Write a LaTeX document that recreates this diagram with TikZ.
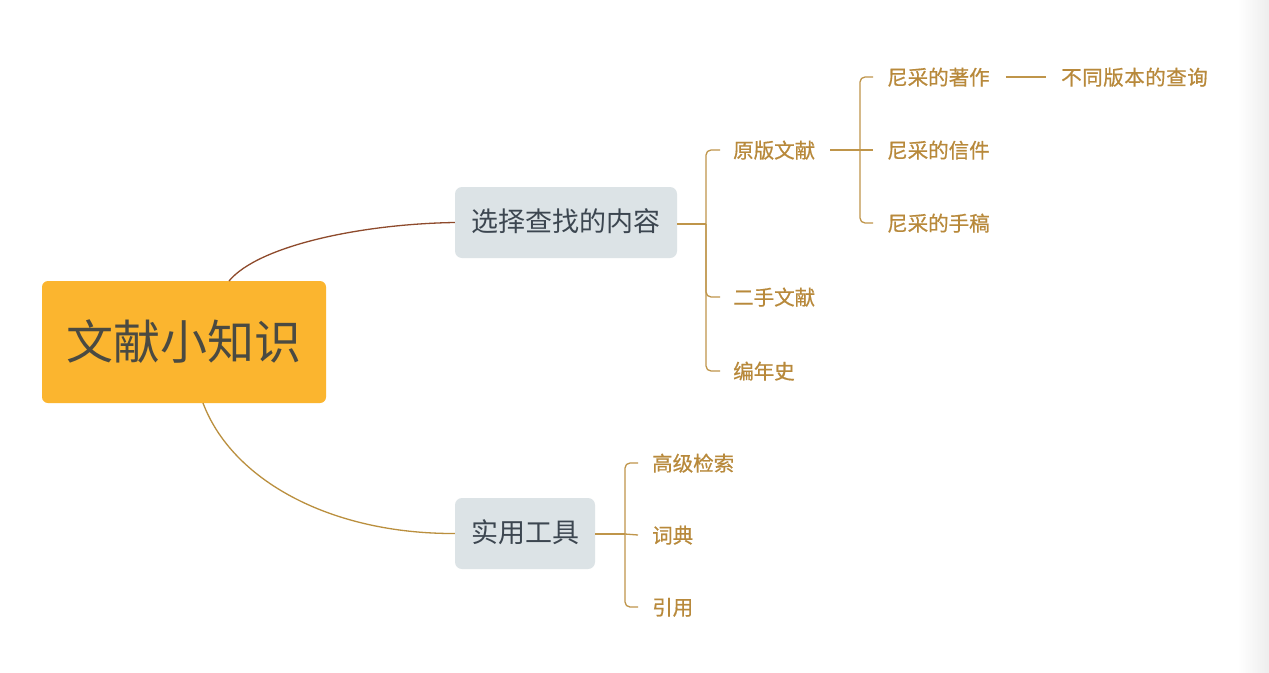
\documentclass[tikz,border=0pt]{standalone}
\usepackage{fontspec}
\newfontfamily\cjk{Noto Sans CJK SC}
\newfontfamily\cjkleaf[FakeBold=0.6]{Noto Sans CJK SC}
\newfontfamily\cjkwide[FakeBold=0.6,LetterSpace=2.5]{Noto Sans CJK SC}
\definecolor{rootfill}{HTML}{FBB52F}
\definecolor{roottext}{HTML}{4A4A42}
\definecolor{boxfill}{HTML}{DCE3E6}
\definecolor{boxtext}{HTML}{3C4650}
\definecolor{leafgold}{HTML}{B8893B}
\definecolor{linegold}{HTML}{BF954A}
\definecolor{curvebrown}{HTML}{8E4A2C}
\definecolor{curvegold}{HTML}{BA8F3E}
\tikzset{
  rootbox/.style={fill=rootfill, rounded corners=6pt, minimum width=284pt, minimum height=122pt,
    inner sep=0pt, text=roottext, font=\cjk\fontsize{47}{56}\selectfont},
  topicbox/.style={fill=boxfill, rounded corners=7pt, minimum height=71pt,
    inner sep=0pt, text=boxtext, text height=18pt, text depth=0pt, font=\cjk\fontsize{27}{32}\selectfont},
  leaf/.style={anchor=west, inner sep=0pt, text=leafgold, text height=16pt, text depth=0pt,
    font=\cjkleaf\fontsize{20.5}{24}\selectfont},
  branch/.style={draw=linegold, line width=1.3pt, rounded corners=5pt},
}
\begin{document}
\begin{tikzpicture}[x=1pt, y=-1pt]
\useasboundingbox (0,0) rectangle (1269,672);
\fill[white] (0,0) rectangle (1269,672);
\shade[left color=white, right color=black!7] (1238,0) rectangle (1269,672);

% nodes
\node[rootbox] (root) at (184,342) {文献小知识};
\node[topicbox, minimum width=222pt] (t1) at (566,222.5) {选择查找的内容};
\node[topicbox, minimum width=140pt] (t2) at (525,533.5) {实用工具};

\node[leaf] (a1) at (733,150) {原版文献};
\node[leaf] (a2) at (733,297) {二手文献};
\node[leaf] (a3) at (733,371) {编年史};

\node[leaf] (b1) at (887,77) {尼采的著作};
\node[leaf] (b2) at (887,150) {尼采的信件};
\node[leaf] (b3) at (887,223) {尼采的手稿};

\node[leaf, font=\cjkwide\fontsize{20.5}{24}\selectfont] (c1) at (1061,77) {不同版本的查询};

\node[leaf] (d1) at (652,463) {高级检索};
\node[leaf] (d2) at (652,535) {词典};
\node[leaf] (d3) at (652,607) {引用};

% curves from root
\coordinate (rtop) at (229,281);
\coordinate (rbot) at (203,403);
\draw[curvebrown, line width=1.3pt] (rtop) .. controls (258,246) and (360,224) .. (t1.west);
\draw[curvegold, line width=1.3pt] (rbot) .. controls (232,480) and (330,534) .. (t2.west);

% branch from topic 1
\coordinate (h1) at (706,224);
\draw[branch] (t1.east |- h1) -- (h1);
\draw[branch] (h1) |- ([xshift=-13pt]a1.west);
\draw[branch] (h1) |- ([xshift=-13pt]a2.west);
\draw[branch] (h1) |- ([xshift=-13pt]a3.west);

% branch from 原版文献
\coordinate (h2) at (860,150);
\draw[branch] ([xshift=15pt]a1.east) -- (h2);
\draw[branch] (h2) |- ([xshift=-14pt]b1.west);
\draw[branch] (h2) -- ([xshift=-14pt]b2.west);
\draw[branch] (h2) |- ([xshift=-14pt]b3.west);

% 尼采的著作 -> 不同版本的查询
\draw[branch] ([xshift=16pt]b1.east) -- ([xshift=-15pt]c1.west);

% branch from topic 2
\coordinate (h3) at (625,534);
\draw[branch] (t2.east |- h3) -- (h3);
\draw[branch] (h3) |- ([xshift=-14pt]d1.west);
\draw[branch] (h3) -- ([xshift=-14pt]d2.west);
\draw[branch] (h3) |- ([xshift=-14pt]d3.west);
\end{tikzpicture}
\end{document}
